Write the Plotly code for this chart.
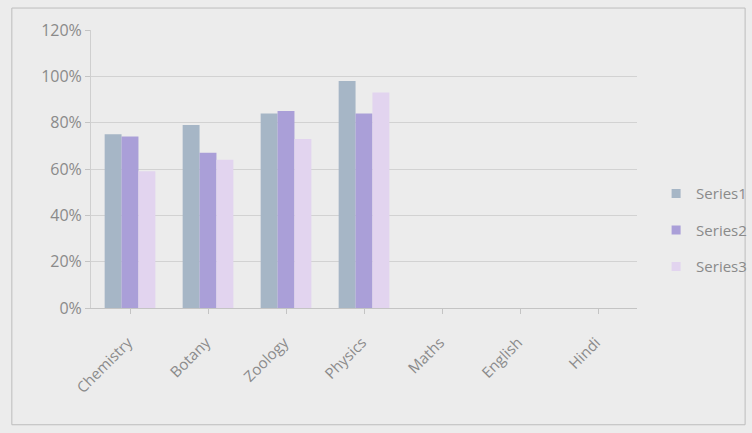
import plotly.graph_objects as go

categories = ["Chemistry", "Botany", "Zoology", "Physics", "Maths", "English", "Hindi"]
series1 = [0.75, 0.79, 0.84, 0.98, None, None, None]
series2 = [0.74, 0.67, 0.85, 0.84, None, None, None]
series3 = [0.59, 0.64, 0.73, 0.93, None, None, None]
series_names = ["Series1", "Series2", "Series3"]
colors = ["#a6b6c6", "#aa9fd8", "#e2d4ef"]
y_ticks = [0, 0.2, 0.4, 0.6, 0.8, 1.0, 1.2]
y_labels = ["0%", "20%", "40%", "60%", "80%", "100%", "120%"]

fig = go.Figure()
for name, vals, c in zip(series_names, [series1, series2, series3], colors):
    fig.add_trace(go.Bar(x=categories, y=vals, name=name, showlegend=False,
                         marker=dict(color=c, line=dict(width=0))))
# legend entries with small square swatches
for name, c in zip(series_names, colors):
    fig.add_trace(go.Scatter(x=[None], y=[None], mode="markers", name=name,
                             legendgroup=name,
                             marker=dict(symbol="square", size=9, color=c)))

fig.update_layout(
    width=752, height=433,
    barmode="group", bargap=0.35, bargroupgap=0,
    paper_bgcolor="#ececec", plot_bgcolor="#ececec",
    margin=dict(l=91, r=115, t=30, b=125, autoexpand=False),
    font=dict(family="Open Sans", size=15, color="#8a8a8a"),
    xaxis=dict(
        categoryorder="array", categoryarray=categories,
        tickangle=-45, showgrid=False, showline=True, linecolor="#c4c4c4",
        ticks="outside", ticklen=5, tickcolor="#c4c4c4",
        tickfont=dict(size=15, color="#8a8a8a"),
        ticklabelshift=-2, ticklabelstandoff=14,
    ),
    yaxis=dict(
        range=[0, 1.2], tickvals=y_ticks, ticktext=y_labels,
        showgrid=True, gridcolor="#d2d2d2", gridwidth=1,
        showline=True, linecolor="#cfcfcf", zeroline=False,
        ticks="outside", ticklen=5, tickcolor="#c4c4c4",
        tickfont=dict(size=16, color="#8a8a8a"),
    ),
    legend=dict(x=1.035, y=0.28, yanchor="middle", xanchor="left",
                font=dict(size=15, color="#8a8a8a"), bgcolor="rgba(0,0,0,0)",
                tracegroupgap=14, itemwidth=30),
    shapes=[dict(type="rect", xref="paper", yref="paper",
                 x0=-0.145, x1=1.198, y0=-0.42, y1=1.079,
                 line=dict(color="#bdbdbd", width=1))],
)

fig.write_html("out.html", config={"displayModeBar": False},
               post_script="document.body.style.margin='0';")
